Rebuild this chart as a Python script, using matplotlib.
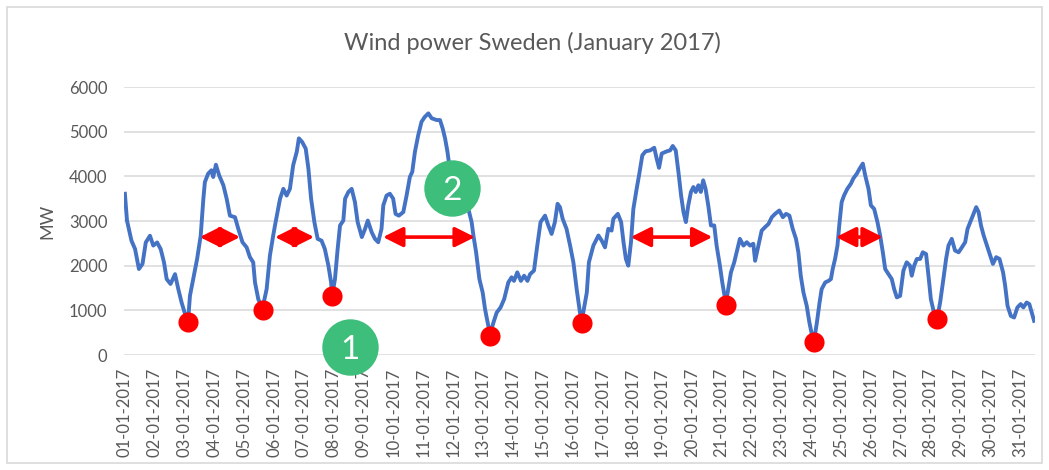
import matplotlib.pyplot as plt
from matplotlib.patches import Rectangle

# hourly-ish wind power (x = days since 01-01-2017 00:00)
days = [0.00, 0.07, 0.22, 0.34, 0.47, 0.59, 0.70, 0.84, 0.95, 1.08, 1.20, 1.31, 1.40, 1.53, 1.68,
        1.79, 1.90, 2.07, 2.12, 2.18, 2.31, 2.42, 2.54, 2.63, 2.68, 2.79, 2.90, 2.96, 3.05, 3.16,
        3.30, 3.41, 3.52, 3.69, 3.80, 3.94, 4.08, 4.19, 4.30, 4.36, 4.47, 4.61, 4.75, 4.86, 4.97,
        5.03, 5.20, 5.31, 5.42, 5.53, 5.64, 5.76, 5.83, 5.94, 6.06, 6.15, 6.24, 6.35, 6.46, 6.59,
        6.70, 6.82, 6.91, 6.95, 7.04, 7.13, 7.21, 7.32, 7.38, 7.49, 7.60, 7.71, 7.80, 7.94, 8.05,
        8.14, 8.27, 8.38, 8.49, 8.60, 8.66, 8.77, 8.88, 8.99, 9.07, 9.18, 9.33, 9.44, 9.55, 9.63,
        9.72, 9.83, 9.94, 10.05, 10.17, 10.28, 10.45, 10.56, 10.65, 10.73, 10.81, 10.87, 11.06, 11.30,
        11.51, 11.62, 11.68, 11.77, 11.88, 11.99, 12.07, 12.18, 12.24, 12.35, 12.46, 12.59, 12.71,
        12.85, 12.96, 13.04, 13.15, 13.27, 13.38, 13.49, 13.58, 13.71, 13.82, 13.93, 14.08, 14.19,
        14.30, 14.41, 14.50, 14.58, 14.67, 14.80, 14.92, 15.03, 15.14, 15.25, 15.31, 15.42, 15.48,
        15.55, 15.70, 15.87, 15.98, 16.09, 16.20, 16.31, 16.37, 16.52, 16.63, 16.71, 16.79, 16.87,
        16.96, 17.04, 17.15, 17.23, 17.34, 17.45, 17.60, 17.74, 17.82, 17.90, 17.99, 18.16, 18.27,
        18.36, 18.46, 18.55, 18.64, 18.72, 18.80, 18.88, 18.97, 19.05, 19.13, 19.22, 19.30, 19.38,
        19.46, 19.55, 19.64, 19.75, 19.83, 19.94, 20.02, 20.14, 20.22, 20.31, 20.42, 20.53, 20.61,
        20.73, 20.84, 20.95, 21.06, 21.12, 21.23, 21.34, 21.45, 21.57, 21.68, 21.79, 21.93, 22.05,
        22.16, 22.27, 22.38, 22.49, 22.57, 22.65, 22.74, 22.85, 22.94, 23.02, 23.10, 23.19, 23.28,
        23.35, 23.47, 23.58, 23.66, 23.72, 23.80, 23.88, 23.94, 24.02, 24.10, 24.21, 24.33, 24.41,
        24.53, 24.62, 24.73, 24.81, 24.92, 25.00, 25.11, 25.22, 25.31, 25.40, 25.48, 25.59, 25.70,
        25.78, 25.87, 25.98, 26.09, 26.20, 26.31, 26.37, 26.45, 26.54, 26.65, 26.74, 26.85, 26.93,
        27.01, 27.10, 27.23, 27.32, 27.43, 27.52, 27.60, 27.71, 27.82, 27.94, 28.05, 28.16, 28.24,
        28.33, 28.42, 28.53, 28.61, 28.69, 28.78, 28.89, 28.98, 29.09, 29.20, 29.31, 29.43, 29.50,
        29.58, 29.69, 29.80, 29.91, 30.02, 30.11, 30.22, 30.31, 30.39, 30.47]
mw = [3610, 3010, 2560, 2375, 1925, 2040, 2520, 2670, 2450, 2520, 2370, 2075, 1700, 1590, 1810,
      1475, 1175, 800, 780, 1325, 1775, 2150, 2670, 3500, 3870, 4060, 4135, 3985, 4260, 4020,
      3800, 3500, 3120, 3085, 2825, 2525, 2410, 2190, 2075, 1625, 1250, 1040, 1475, 2225, 2675,
      2900, 3500, 3720, 3570, 3720, 4250, 4550, 4850, 4770, 4620, 4170, 3500, 2975, 2600, 2560,
      2375, 2000, 1625, 1340, 1700, 2375, 2900, 3010, 3500, 3650, 3720, 3420, 2975, 2640, 2825,
      3010, 2750, 2600, 2525, 2825, 3350, 3570, 3610, 3500, 3160, 3120, 3200, 3570, 3985, 4100,
      4550, 4920, 5220, 5330, 5410, 5300, 5260, 5260, 5070, 4850, 4550, 4250, 3900, 3500,
      3270, 2975, 2675, 2300, 1700, 1400, 1025, 650, 460, 725, 950, 1065, 1250,
      1625, 1740, 1660, 1850, 1660, 1775, 1660, 1810, 1890, 2450, 2975, 3120, 2900,
      2710, 2975, 3385, 3310, 3050, 2825, 2450, 2075, 1475, 950, 760, 1175, 1400,
      2075, 2450, 2675, 2560, 2410, 2825, 2785, 3050, 3160, 2975, 2525, 2150, 2000,
      2525, 3270, 3720, 4020, 4470, 4560, 4580, 4640, 4400, 4190, 4510, 4560, 4580,
      4680, 4580, 4100, 3570, 3200, 2975, 3350, 3650, 3760, 3650, 3800, 3650, 3910,
      3720, 3350, 2900, 2900, 2450, 2000, 1625, 1150, 1475, 1850, 2075, 2375, 2600,
      2450, 2525, 2450, 2490, 2110, 2450, 2785, 2860, 2935, 3085, 3160, 3235, 3085,
      3160, 3120, 2825, 2600, 2300, 1775, 1400, 1100, 725, 465, 330, 725, 1175,
      1475, 1625, 1660, 1700, 1925, 2150, 2450, 2900, 3420, 3570, 3720, 3835, 3950,
      4060, 4170, 4285, 4020, 3720, 3350, 3270, 2975, 2675, 2300, 1925, 1810, 1700,
      1475, 1290, 1325, 1890, 2075, 2000, 1775, 2000, 2150, 2150, 2300, 2260, 1775,
      1250, 990, 850, 1175, 1700, 2150, 2450, 2600, 2340, 2300, 2410, 2525, 2825,
      2975, 3120, 3310, 3200, 2900, 2675, 2450, 2260, 2040, 2190, 2150, 1850, 1550,
      1100, 875, 840, 1065, 1140, 1065, 1175, 1140, 950, 765]

tick_labels = [f"{d:02d}-01-2017" for d in range(1, 32)]

# red markers at the dips
dip_days = [2.12, 4.62, 6.95, 12.24, 15.31, 20.14, 23.10, 27.23]
dip_mw = [750, 1010, 1310, 425, 725, 1115, 300, 815]

# red double arrows (start day, end day, level)
arrow_start = [2.51, 5.03, 8.65, 16.95, 23.83]
arrow_end = [3.86, 6.34, 11.73, 19.69, 25.40]
arrow_level = 2640

# green numbered badges
badge_days = [7.54, 10.96]
badge_mw = [180, 3745]
badge_text = ["1", "2"]

plt.rcParams['font.family'] = ['Lato', 'DejaVu Sans']
grey = '#595959'

fig = plt.figure(figsize=(10.49, 4.70), dpi=100)
ax = fig.add_axes([124 / 1049, 1 - 355 / 470, 911 / 1049, 268 / 470])

ax.plot(days, mw, color='#4472C4', lw=2.8, solid_joinstyle='round', zorder=3)

ax.scatter(dip_days, dip_mw, s=210, color='#FF0000', zorder=5, clip_on=False, linewidths=0)

for a, b in zip(arrow_start, arrow_end):
    ax.annotate('', xy=(b, arrow_level), xytext=(a, arrow_level),
                arrowprops=dict(arrowstyle='<|-|>,head_length=0.6,head_width=0.3',
                                color='#FF0000', lw=2.6, mutation_scale=20,
                                shrinkA=0, shrinkB=0),
                zorder=4)

ax.scatter(badge_days, badge_mw, s=1650, color='#3DBF7B', zorder=6, clip_on=False, linewidths=0)
for d, v, t in zip(badge_days, badge_mw, badge_text):
    ax.text(d, v, t, color='white', fontsize=24, ha='center', va='center_baseline', zorder=7)

ax.set_xlim(-0.03, 30.5)
ax.set_ylim(0, 6000)
ax.set_yticks(range(0, 6001, 1000))
ax.set_xticks(range(31))
ax.set_xticklabels(tick_labels, rotation=90, ha='center', va='top')
ax.tick_params(axis='both', length=0, colors=grey, labelsize=12)
ax.tick_params(axis='y', pad=12)
ax.tick_params(axis='x', pad=9)
ax.grid(axis='y', color='#D9D9D9', lw=1.1)
ax.set_axisbelow(True)
for s in ax.spines.values():
    s.set_visible(False)

ax.set_ylabel('MW', color=grey, fontsize=13)
ax.yaxis.set_label_coords(-0.0757, 0.5)

fig.text(532 / 1049, 1 - 50 / 470, 'Wind power Sweden (January 2017)', color=grey,
         fontsize=17, ha='center', va='baseline')

fig.patches.append(Rectangle((7 / 1049, 7 / 470), 1035 / 1049, 456 / 470,
                             transform=fig.transFigure, fill=False,
                             edgecolor='#D9D9D9', lw=1.2))

fig.savefig('out.png', dpi=100)
